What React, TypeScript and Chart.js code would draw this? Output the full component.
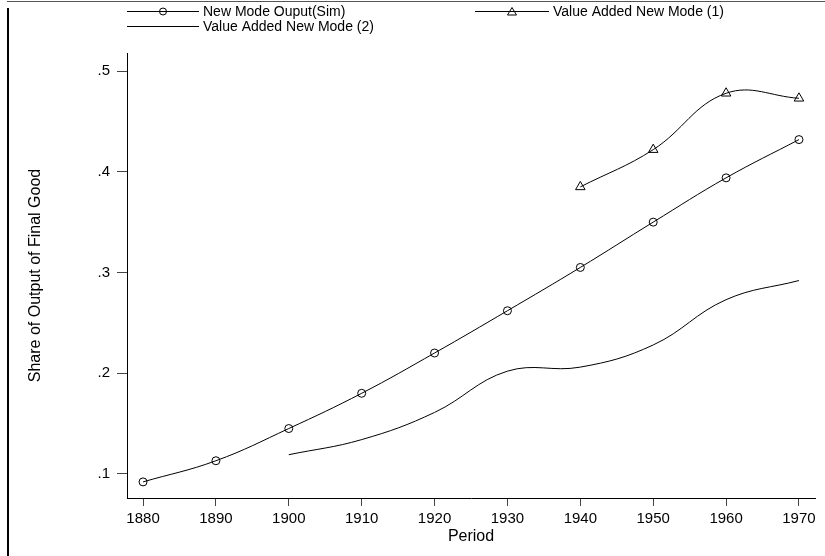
import React, { useEffect, useRef } from "react";
import { Chart, registerables } from "chart.js";

Chart.register(...registerables);

// Decades on the horizontal axis
const years = [1880, 1890, 1900, 1910, 1920, 1930, 1940, 1950, 1960, 1970];

// New Mode Ouput(Sim)
const simShare = [0.092, 0.113, 0.145, 0.18, 0.22, 0.262, 0.305, 0.35, 0.394, 0.432];

// Value Added New Mode (1)
const va1Years = [1940, 1950, 1960, 1970];
const va1Share = [0.385, 0.422, 0.478, 0.473];

// Value Added New Mode (2)
const va2Years = [1900, 1910, 1920, 1930, 1940, 1950, 1960, 1970];
const va2Share = [0.119, 0.134, 0.161, 0.202, 0.206, 0.228, 0.273, 0.292];

const xTicks = [1880, 1890, 1900, 1910, 1920, 1930, 1940, 1950, 1960, 1970];
const yTicks = [0.1, 0.2, 0.3, 0.4, 0.5];
const yTickLabels = [".1", ".2", ".3", ".4", ".5"];

const seriesNames = ["New Mode Ouput(Sim)", "Value Added New Mode (1)", "Value Added New Mode (2)"];
const xTitle = "Period";
const yTitle = "Share of Output of Final Good";

const FONT = "'Liberation Sans', Arial, Helvetica, sans-serif";
const INK = "#000000";

const toPoints = (xs: number[], ys: number[]) => xs.map((x, i) => ({ x, y: ys[i] }));

// White page with the partial outer frame (top rule and left rule)
const framePlugin = {
  id: "frame",
  beforeDraw(chart: any) {
    const { ctx, width, height } = chart;
    ctx.save();
    ctx.fillStyle = "#ffffff";
    ctx.fillRect(0, 0, width, height);
    ctx.strokeStyle = "#555";
    ctx.lineWidth = 1;
    ctx.beginPath();
    ctx.moveTo(7, 1.5);
    ctx.lineTo(width, 1.5);
    ctx.stroke();
    ctx.strokeStyle = INK;
    ctx.lineWidth = 2;
    ctx.beginPath();
    ctx.moveTo(8, 8);
    ctx.lineTo(8, height);
    ctx.stroke();
    ctx.restore();
  },
};

// Stata-style key: line sample with a marker in its middle, then the label
const keyPlugin = {
  id: "key",
  afterDraw(chart: any) {
    const { ctx } = chart;
    const entries = [
      { name: seriesNames[0], x0: 127, x1: 199, y: 11, marker: "circle" },
      { name: seriesNames[1], x0: 475, x1: 549, y: 11, marker: "triangle" },
      { name: seriesNames[2], x0: 127, x1: 199, y: 26, marker: "" },
    ];
    ctx.save();
    ctx.strokeStyle = INK;
    ctx.fillStyle = INK;
    ctx.lineWidth = 1;
    ctx.font = `14px ${FONT}`;
    ctx.textBaseline = "middle";
    ctx.textAlign = "left";
    for (const e of entries) {
      ctx.beginPath();
      ctx.moveTo(e.x0, e.y + 0.5);
      ctx.lineTo(e.x1, e.y + 0.5);
      ctx.stroke();
      const cx = (e.x0 + e.x1) / 2;
      if (e.marker === "circle") {
        ctx.beginPath();
        ctx.arc(cx, e.y + 0.5, 3.5, 0, Math.PI * 2);
        ctx.stroke();
      } else if (e.marker === "triangle") {
        ctx.beginPath();
        ctx.moveTo(cx, e.y - 3.5);
        ctx.lineTo(cx - 4.5, e.y + 4);
        ctx.lineTo(cx + 4.5, e.y + 4);
        ctx.closePath();
        ctx.stroke();
      }
      ctx.fillText(e.name, e.x1 + 4, e.y + 1);
    }
    ctx.restore();
  },
};

export default function App() {
  const ref = useRef<HTMLCanvasElement>(null);

  useEffect(() => {
    const canvas = ref.current;
    if (!canvas) return;

    const lineBase = {
      borderColor: INK,
      borderWidth: 1,
      backgroundColor: "rgba(0,0,0,0)",
      pointBorderColor: INK,
      pointBackgroundColor: "rgba(0,0,0,0)",
      pointBorderWidth: 1,
      tension: 0.4,
      fill: false,
    };

    const chart = new Chart(canvas, {
      type: "line",
      data: {
        datasets: [
          {
            ...lineBase,
            label: seriesNames[0],
            data: toPoints(years, simShare),
            pointStyle: "circle",
            pointRadius: 4,
          },
          {
            ...lineBase,
            label: seriesNames[1],
            data: toPoints(va1Years, va1Share),
            pointStyle: "triangle",
            pointRadius: 5.5,
          },
          {
            ...lineBase,
            label: seriesNames[2],
            data: toPoints(va2Years, va2Share),
            pointRadius: 0,
          },
        ],
      },
      options: {
        responsive: false,
        animation: false,
        devicePixelRatio: 1,
        layout: { padding: { top: 53, right: 10, left: 0, bottom: 0 } },
        plugins: {
          legend: { display: false },
          tooltip: { enabled: false },
        },
        scales: {
          x: {
            type: "linear",
            min: 1877.8,
            max: 1972.2,
            afterBuildTicks: (s: any) => {
              s.ticks = xTicks.map((v) => ({ value: v }));
            },
            afterFit: (s: any) => {
              s.height = 58;
            },
            ticks: {
              color: INK,
              padding: 4,
              maxRotation: 0,
              autoSkip: false,
              font: { family: FONT, size: 15 },
              callback: (v: any) => String(v),
            },
            grid: {
              display: true,
              drawOnChartArea: false,
              drawTicks: true,
              tickLength: 8,
              color: "#444",
            },
            border: { display: true, color: INK, width: 1 },
            title: {
              display: true,
              text: xTitle,
              color: INK,
              font: { family: FONT, size: 16 },
              padding: { top: 0, bottom: 10 },
            },
          },
          y: {
            type: "linear",
            min: 0.076,
            max: 0.518,
            afterBuildTicks: (s: any) => {
              s.ticks = yTicks.map((v) => ({ value: v }));
            },
            afterFit: (s: any) => {
              s.width = 127;
            },
            ticks: {
              color: INK,
              padding: 7,
              autoSkip: false,
              font: { family: FONT, size: 15 },
              callback: (v: any) => {
                const i = yTicks.indexOf(Number(v));
                return i >= 0 ? yTickLabels[i] : "";
              },
            },
            grid: {
              display: true,
              drawOnChartArea: false,
              drawTicks: true,
              tickLength: 10,
              color: "#444",
            },
            border: { display: true, color: INK, width: 1 },
            title: {
              display: true,
              text: yTitle,
              color: INK,
              font: { family: FONT, size: 16 },
              padding: { top: 26, bottom: 0 },
            },
          },
        },
      },
      plugins: [framePlugin, keyPlugin],
    } as any);

    return () => chart.destroy();
  }, []);

  return (
    <div style={{ position: "fixed", left: 0, top: 0, width: 825, height: 556, background: "#fff" }}>
      <canvas ref={ref} width={825} height={556} style={{ display: "block", width: 825, height: 556 }} />
    </div>
  );
}
